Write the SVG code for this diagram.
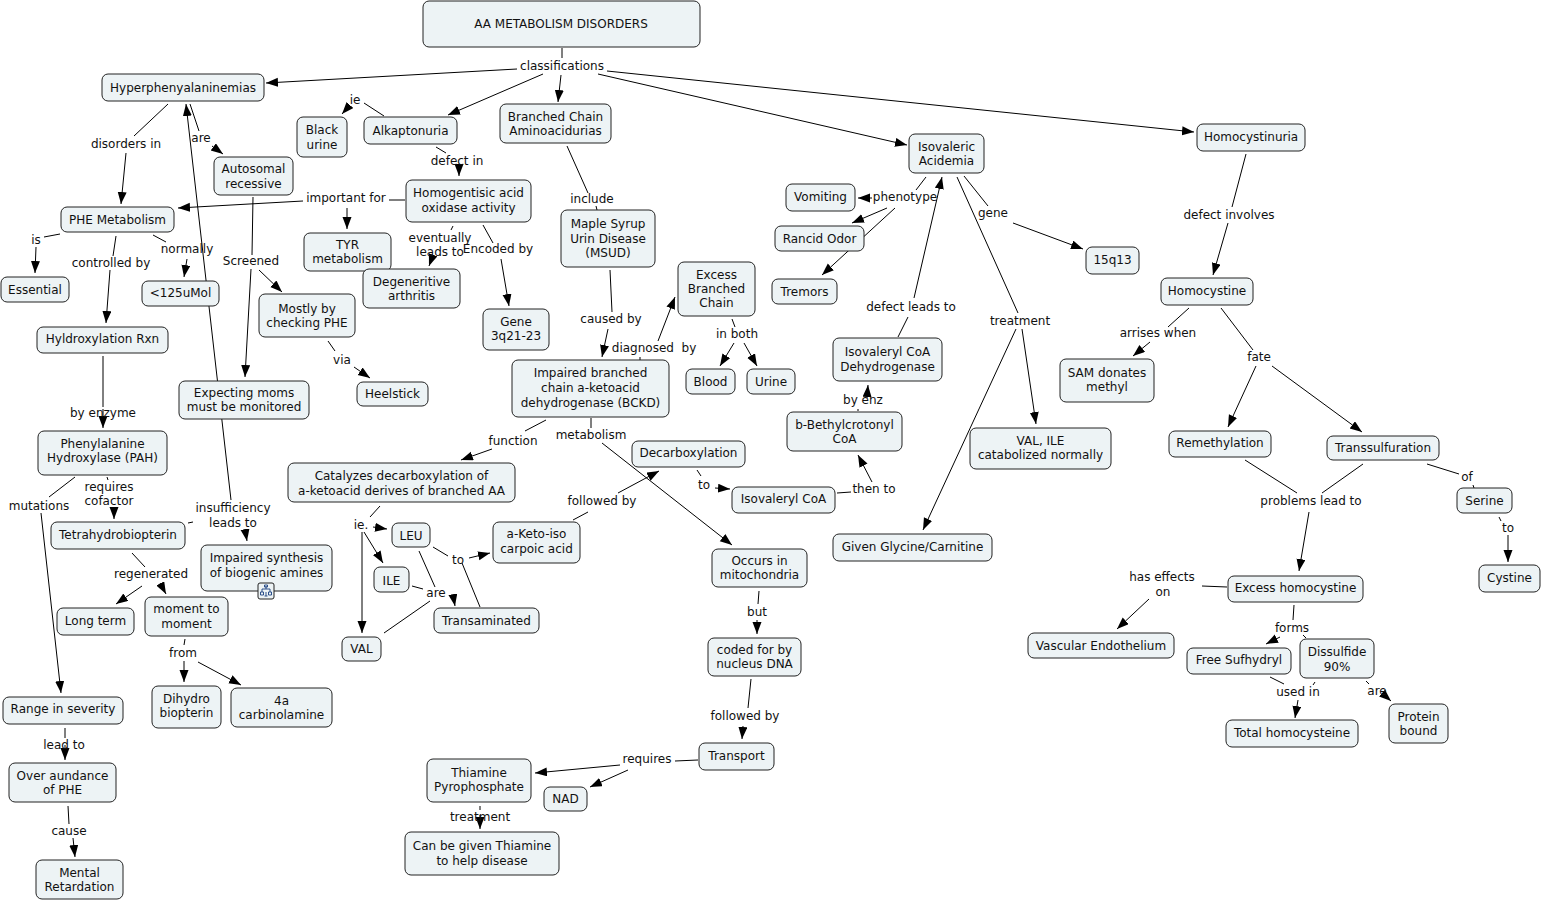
<svg xmlns="http://www.w3.org/2000/svg" width="1547" height="902" viewBox="0 0 1547 902">
<defs>
<marker id="ah" markerUnits="userSpaceOnUse" markerWidth="12" markerHeight="10" refX="12" refY="4.5" orient="auto">
<path d="M0,0 L12,4.5 L0,9 z" fill="#000"/>
</marker>
<style>
.node rect{fill:#edf3f5;stroke:#222;stroke-width:1}
text{font-family:"DejaVu Sans",Verdana,sans-serif;font-size:12px;fill:#111;text-anchor:middle}
#connectors line{stroke:#000;stroke-width:1;fill:none}
#connectors line.a{marker-end:url(#ah)}
</style>
</defs>
<rect width="1547" height="902" fill="#fff"/>
<g id="connectors">
<line x1="562" y1="48" x2="562" y2="58"/>
<line class="a" x1="517" y1="69" x2="266" y2="83"/>
<line class="a" x1="543" y1="74" x2="448" y2="115"/>
<line class="a" x1="561" y1="75" x2="558" y2="102"/>
<line class="a" x1="598" y1="74" x2="907" y2="145"/>
<line class="a" x1="607" y1="71" x2="1194" y2="132"/>
<line x1="168" y1="104" x2="134" y2="136"/>
<line class="a" x1="126" y1="153" x2="121" y2="204"/>
<line x1="190" y1="104" x2="199" y2="131"/>
<line class="a" x1="212" y1="146" x2="223" y2="154"/>
<line class="a" x1="231" y1="500" x2="186" y2="104"/>
<line x1="188" y1="523" x2="193" y2="522"/>
<line class="a" x1="245" y1="529" x2="247" y2="541"/>
<line x1="60" y1="234" x2="44" y2="237"/>
<line class="a" x1="36" y1="247" x2="35" y2="273"/>
<line x1="116" y1="236" x2="113" y2="256"/>
<line class="a" x1="110" y1="270" x2="106" y2="323"/>
<line x1="153" y1="235" x2="166" y2="242"/>
<line class="a" x1="187" y1="259" x2="184" y2="277"/>
<line x1="405" y1="200" x2="389" y2="200"/>
<line class="a" x1="303" y1="201" x2="178" y2="208"/>
<line class="a" x1="347" y1="208" x2="347" y2="229"/>
<line x1="103" y1="356" x2="103" y2="407"/>
<line class="a" x1="103" y1="409" x2="103" y2="428"/>
<line x1="75" y1="477" x2="49" y2="497"/>
<line class="a" x1="41" y1="513" x2="61" y2="693"/>
<line x1="107" y1="477" x2="108" y2="480"/>
<line class="a" x1="114" y1="507" x2="114" y2="519"/>
<line x1="132" y1="553" x2="145" y2="567"/>
<line class="a" x1="142" y1="586" x2="116" y2="604"/>
<line class="a" x1="160" y1="583" x2="166" y2="594"/>
<line x1="185" y1="639" x2="184" y2="645"/>
<line class="a" x1="184" y1="661" x2="184" y2="682"/>
<line class="a" x1="198" y1="662" x2="241" y2="685"/>
<line x1="65" y1="728" x2="65" y2="738"/>
<line class="a" x1="65" y1="745" x2="65" y2="760"/>
<line x1="68" y1="806" x2="69" y2="824"/>
<line class="a" x1="73" y1="838" x2="75" y2="857"/>
<line x1="253" y1="197" x2="252" y2="255"/>
<line class="a" x1="251" y1="269" x2="245" y2="377"/>
<line class="a" x1="259" y1="270" x2="282" y2="292"/>
<line x1="328" y1="341" x2="335" y2="351"/>
<line class="a" x1="354" y1="367" x2="370" y2="378"/>
<line x1="384" y1="116" x2="364" y2="103"/>
<line class="a" x1="350" y1="105" x2="342" y2="114"/>
<line x1="436" y1="147" x2="446" y2="153"/>
<line class="a" x1="459" y1="164" x2="459" y2="176"/>
<line x1="453" y1="226" x2="451" y2="230"/>
<line class="a" x1="433" y1="255" x2="429" y2="266"/>
<line x1="483" y1="225" x2="493" y2="243"/>
<line class="a" x1="501" y1="259" x2="509" y2="306"/>
<line x1="567" y1="146" x2="588" y2="193"/>
<line x1="596" y1="206" x2="597" y2="210"/>
<line x1="610" y1="270" x2="612" y2="312"/>
<line class="a" x1="608" y1="329" x2="602" y2="357"/>
<line x1="640" y1="357" x2="640" y2="360"/>
<line class="a" x1="658" y1="341" x2="675" y2="297"/>
<line x1="732" y1="319" x2="735" y2="327"/>
<line class="a" x1="734" y1="343" x2="720" y2="366"/>
<line class="a" x1="744" y1="343" x2="757" y2="366"/>
<line x1="546" y1="420" x2="525" y2="431"/>
<line class="a" x1="492" y1="449" x2="461" y2="460"/>
<line x1="591" y1="418" x2="591" y2="428"/>
<line class="a" x1="602" y1="443" x2="732" y2="545"/>
<line x1="573" y1="520" x2="588" y2="512"/>
<line class="a" x1="618" y1="493" x2="659" y2="471"/>
<line x1="697" y1="470" x2="701" y2="476"/>
<line class="a" x1="715" y1="488" x2="730" y2="489"/>
<line x1="837" y1="493" x2="851" y2="492"/>
<line class="a" x1="872" y1="482" x2="858" y2="455"/>
<line x1="858" y1="409" x2="858" y2="411"/>
<line class="a" x1="867" y1="398" x2="868" y2="385"/>
<line x1="898" y1="337" x2="908" y2="317"/>
<line class="a" x1="914" y1="298" x2="942" y2="177"/>
<line x1="926" y1="177" x2="916" y2="190"/>
<line class="a" x1="872" y1="198" x2="858" y2="198"/>
<line class="a" x1="887" y1="208" x2="852" y2="223"/>
<line class="a" x1="895" y1="208" x2="822" y2="275"/>
<line x1="964" y1="176" x2="988" y2="206"/>
<line class="a" x1="1013" y1="223" x2="1083" y2="249"/>
<line x1="957" y1="177" x2="1018" y2="313"/>
<line class="a" x1="1016" y1="329" x2="923" y2="530"/>
<line class="a" x1="1022" y1="329" x2="1036" y2="424"/>
<line x1="1246" y1="154" x2="1232" y2="207"/>
<line class="a" x1="1228" y1="223" x2="1213" y2="275"/>
<line x1="1189" y1="308" x2="1168" y2="327"/>
<line class="a" x1="1150" y1="342" x2="1133" y2="356"/>
<line x1="1221" y1="308" x2="1253" y2="350"/>
<line class="a" x1="1256" y1="366" x2="1228" y2="427"/>
<line class="a" x1="1272" y1="366" x2="1362" y2="432"/>
<line x1="1245" y1="460" x2="1297" y2="493"/>
<line x1="1363" y1="464" x2="1322" y2="493"/>
<line class="a" x1="1309" y1="512" x2="1299" y2="571"/>
<line x1="1427" y1="464" x2="1459" y2="474"/>
<line x1="1473" y1="485" x2="1474" y2="488"/>
<line x1="1499" y1="517" x2="1501" y2="521"/>
<line class="a" x1="1508" y1="535" x2="1508" y2="562"/>
<line x1="1227" y1="587" x2="1202" y2="586"/>
<line class="a" x1="1149" y1="599" x2="1117" y2="629"/>
<line x1="1294" y1="605" x2="1293" y2="620"/>
<line class="a" x1="1280" y1="637" x2="1266" y2="644"/>
<line x1="1303" y1="635" x2="1306" y2="638"/>
<line x1="1270" y1="677" x2="1284" y2="684"/>
<line x1="1315" y1="682" x2="1313" y2="685"/>
<line class="a" x1="1298" y1="700" x2="1295" y2="718"/>
<line x1="1366" y1="681" x2="1369" y2="684"/>
<line class="a" x1="1382" y1="693" x2="1391" y2="701"/>
<line x1="380" y1="506" x2="370" y2="517"/>
<line class="a" x1="373" y1="527" x2="387" y2="529"/>
<line class="a" x1="364" y1="532" x2="383" y2="563"/>
<line class="a" x1="362" y1="532" x2="362" y2="633"/>
<line x1="419" y1="551" x2="435" y2="587"/>
<line x1="412" y1="586" x2="423" y2="589"/>
<line x1="384" y1="633" x2="430" y2="601"/>
<line class="a" x1="453" y1="595" x2="455" y2="606"/>
<line x1="433" y1="547" x2="448" y2="556"/>
<line class="a" x1="469" y1="558" x2="490" y2="553"/>
<line x1="480" y1="607" x2="462" y2="563"/>
<line x1="698" y1="760" x2="675" y2="761"/>
<line class="a" x1="620" y1="765" x2="535" y2="773"/>
<line class="a" x1="628" y1="770" x2="590" y2="787"/>
<line x1="759" y1="591" x2="758" y2="604"/>
<line class="a" x1="757" y1="620" x2="757" y2="634"/>
<line x1="751" y1="679" x2="748" y2="708"/>
<line class="a" x1="743" y1="726" x2="742" y2="739"/>
<line x1="480" y1="806" x2="480" y2="810"/>
<line class="a" x1="480" y1="815" x2="480" y2="829"/>
</g>
<g id="link-labels">
<text x="562" y="70">classifications</text>
<text x="126" y="148">disorders in</text>
<text x="201" y="142">are</text>
<text x="36" y="244">is</text>
<text x="111" y="267">controlled by</text>
<text x="187" y="253">normally</text>
<text x="346" y="202">important for</text>
<text x="103" y="417">by enzyme</text>
<text x="355" y="104">ie</text>
<text x="457" y="165">defect in</text>
<text x="440" y="242">eventually</text>
<text x="440" y="256">leads to</text>
<text x="498" y="253">Encoded by</text>
<text x="251" y="265">Screened</text>
<text x="342" y="364">via</text>
<text x="592" y="203">include</text>
<text x="611" y="323">caused by</text>
<text x="654" y="352" xml:space="preserve">diagnosed  by</text>
<text x="737" y="338">in both</text>
<text x="513" y="445">function</text>
<text x="591" y="439">metabolism</text>
<text x="602" y="505">followed by</text>
<text x="704" y="489">to</text>
<text x="874" y="493">then to</text>
<text x="863" y="404">by enz</text>
<text x="911" y="311">defect leads to</text>
<text x="905" y="201">phenotype</text>
<text x="993" y="217">gene</text>
<text x="1020" y="325">treatment</text>
<text x="1229" y="219">defect involves</text>
<text x="1158" y="337">arrises when</text>
<text x="1259" y="361">fate</text>
<text x="1311" y="505">problems lead to</text>
<text x="1467" y="481">of</text>
<text x="1508" y="532">to</text>
<text x="1162" y="581">has effects</text>
<text x="1163" y="596">on</text>
<text x="1292" y="632">forms</text>
<text x="1298" y="696">used in</text>
<text x="1377" y="695">are</text>
<text x="39" y="510">mutations</text>
<text x="109" y="491">requires</text>
<text x="109" y="505">cofactor</text>
<text x="233" y="512">insufficiency</text>
<text x="233" y="527">leads to</text>
<text x="151" y="578">regenerated</text>
<text x="183" y="657">from</text>
<text x="64" y="749">lead to</text>
<text x="69" y="835">cause</text>
<text x="361" y="529">ie.</text>
<text x="436" y="597">are</text>
<text x="458" y="564">to</text>
<text x="480" y="821">treatment</text>
<text x="757" y="616">but</text>
<text x="745" y="720">followed by</text>
<text x="647" y="763">requires</text>
</g>
<g id="n-title" class="node"><rect x="423" y="1" width="277" height="46" rx="6"/><text x="561" y="28">AA METABOLISM DISORDERS</text></g>
<g id="n-hyper" class="node"><rect x="102" y="74" width="162" height="27" rx="6"/><text x="183" y="92">Hyperphenyalaninemias</text></g>
<g id="n-blackurine" class="node"><rect x="297" y="117" width="50" height="40" rx="6"/><text x="322" y="134">Black</text><text x="322" y="148.5">urine</text></g>
<g id="n-alk" class="node"><rect x="364" y="117" width="93" height="27" rx="6"/><text x="410.5" y="135">Alkaptonuria</text></g>
<g id="n-autosomal" class="node"><rect x="214" y="157" width="79" height="38" rx="6"/><text x="253.5" y="173">Autosomal</text><text x="253.5" y="187.5">recessive</text></g>
<g id="n-phemet" class="node"><rect x="61" y="207" width="113" height="25" rx="6"/><text x="117.5" y="224">PHE Metabolism</text></g>
<g id="n-homogentisic" class="node"><rect x="406" y="180" width="125" height="42" rx="6"/><text x="468.5" y="197">Homogentisic acid</text><text x="468.5" y="211.5">oxidase activity</text></g>
<g id="n-tyr" class="node"><rect x="304" y="233" width="87" height="38" rx="6"/><text x="347.5" y="248.5">TYR</text><text x="347.5" y="263">metabolism</text></g>
<g id="n-degen" class="node"><rect x="363" y="269" width="97" height="39" rx="6"/><text x="411.5" y="285.5">Degeneritive</text><text x="411.5" y="300">arthritis</text></g>
<g id="n-essential" class="node"><rect x="1" y="277" width="68" height="25" rx="6"/><text x="35" y="294">Essential</text></g>
<g id="n-125" class="node"><rect x="142" y="281" width="77" height="25" rx="6"/><text x="180.5" y="296.5">&lt;125uMol</text></g>
<g id="n-mostly" class="node"><rect x="259" y="294" width="96" height="43" rx="6"/><text x="307" y="312.5">Mostly by</text><text x="307" y="326.5">checking PHE</text></g>
<g id="n-gene" class="node"><rect x="483" y="309" width="66" height="41" rx="6"/><text x="516" y="325.5">Gene</text><text x="516" y="340">3q21-23</text></g>
<g id="n-hyl" class="node"><rect x="37" y="327" width="131" height="26" rx="6"/><text x="102.5" y="343">Hyldroxylation Rxn</text></g>
<g id="n-heelstick" class="node"><rect x="357" y="382" width="71" height="24" rx="6"/><text x="392.5" y="397.5">Heelstick</text></g>
<g id="n-expecting" class="node"><rect x="179" y="381" width="130" height="38" rx="6"/><text x="244" y="396.8">Expecting moms</text><text x="244" y="411.3">must be monitored</text></g>
<g id="n-branched" class="node"><rect x="500" y="104" width="111" height="39" rx="6"/><text x="555.5" y="120.8">Branched Chain</text><text x="555.5" y="135.3">Aminoacidurias</text></g>
<g id="n-msud" class="node"><rect x="561" y="210" width="94" height="57" rx="6"/><text x="608" y="228">Maple Syrup</text><text x="608" y="242.5">Urin Disease</text><text x="608" y="257">(MSUD)</text></g>
<g id="n-excessbc" class="node"><rect x="678" y="262" width="77" height="54" rx="6"/><text x="716.5" y="278.7">Excess</text><text x="716.5" y="293">Branched</text><text x="716.5" y="307.3">Chain</text></g>
<g id="n-bckd" class="node"><rect x="512" y="360" width="157" height="57" rx="6"/><text x="590.5" y="377.4">Impaired branched</text><text x="590.5" y="392">chain a-ketoacid</text><text x="590.5" y="406.6">dehydrogenase (BCKD)</text></g>
<g id="n-blood" class="node"><rect x="686" y="369" width="49" height="25" rx="6"/><text x="710.5" y="385.7">Blood</text></g>
<g id="n-urine" class="node"><rect x="747" y="369" width="48" height="25" rx="6"/><text x="771" y="385.7">Urine</text></g>
<g id="n-isovac" class="node"><rect x="909" y="134" width="75" height="39" rx="6"/><text x="946.5" y="150.7">Isovaleric</text><text x="946.5" y="165.3">Acidemia</text></g>
<g id="n-homocystinuria" class="node"><rect x="1197" y="124" width="108" height="27" rx="6"/><text x="1251" y="140.7">Homocystinuria</text></g>
<g id="n-vomiting" class="node"><rect x="786" y="184" width="69" height="27" rx="6"/><text x="820.5" y="200.7">Vomiting</text></g>
<g id="n-rancid" class="node"><rect x="775" y="226" width="89" height="25" rx="6"/><text x="819.5" y="242.7">Rancid Odor</text></g>
<g id="n-tremors" class="node"><rect x="772" y="279" width="65" height="25" rx="6"/><text x="804.5" y="296.3">Tremors</text></g>
<g id="n-15q13" class="node"><rect x="1086" y="247" width="53" height="27" rx="6"/><text x="1112.5" y="264">15q13</text></g>
<g id="n-homocystine" class="node"><rect x="1161" y="278" width="92" height="27" rx="6"/><text x="1207" y="294.7">Homocystine</text></g>
<g id="n-isovdh" class="node"><rect x="833" y="338" width="109" height="43" rx="6"/><text x="887.5" y="355.7">Isovaleryl CoA</text><text x="887.5" y="370.5">Dehydrogenase</text></g>
<g id="n-sam" class="node"><rect x="1060" y="359" width="94" height="43" rx="6"/><text x="1107" y="376.7">SAM donates</text><text x="1107" y="391.3">methyl</text></g>
<g id="n-bbeth" class="node"><rect x="787" y="412" width="115" height="39" rx="6"/><text x="844.5" y="429">b-Bethylcrotonyl</text><text x="844.5" y="443.3">CoA</text></g>
<g id="n-valile" class="node"><rect x="970" y="428" width="141" height="41" rx="6"/><text x="1040.5" y="444.7">VAL, ILE</text><text x="1040.5" y="459">catabolized normally</text></g>
<g id="n-remeth" class="node"><rect x="1169" y="431" width="102" height="26" rx="6"/><text x="1220" y="446.7">Remethylation</text></g>
<g id="n-transs" class="node"><rect x="1327" y="436" width="112" height="24" rx="6"/><text x="1383" y="451.7">Transsulfuration</text></g>
<g id="n-serine" class="node"><rect x="1457" y="488" width="55" height="25" rx="6"/><text x="1484.5" y="504.7">Serine</text></g>
<g id="n-cystine" class="node"><rect x="1479" y="565" width="61" height="27" rx="6"/><text x="1509.5" y="581.7">Cystine</text></g>
<g id="n-excesshc" class="node"><rect x="1228" y="576" width="135" height="26" rx="6"/><text x="1295.5" y="591.7">Excess homocystine</text></g>
<g id="n-vascular" class="node"><rect x="1028" y="633" width="146" height="25" rx="6"/><text x="1101" y="649.7">Vascular Endothelium</text></g>
<g id="n-free" class="node"><rect x="1187" y="648" width="104" height="26" rx="6"/><text x="1239" y="664">Free Sufhydryl</text></g>
<g id="n-dissulfide" class="node"><rect x="1300" y="639" width="74" height="39" rx="6"/><text x="1337" y="655.7">Dissulfide</text><text x="1337" y="670.5">90%</text></g>
<g id="n-protein" class="node"><rect x="1389" y="704" width="59" height="39" rx="6"/><text x="1418.5" y="720.7">Protein</text><text x="1418.5" y="735">bound</text></g>
<g id="n-totalhc" class="node"><rect x="1226" y="720" width="132" height="27" rx="6"/><text x="1292" y="736.7">Total homocysteine</text></g>
<g id="n-glycine" class="node"><rect x="833" y="534" width="159" height="27" rx="6"/><text x="912.5" y="550.7">Given Glycine/Carnitine</text></g>
<g id="n-decarb" class="node"><rect x="632" y="441" width="113" height="26" rx="6"/><text x="688.5" y="456.7">Decarboxylation</text></g>
<g id="n-isovcoa" class="node"><rect x="732" y="487" width="103" height="26" rx="6"/><text x="783.5" y="503">Isovaleryl CoA</text></g>
<g id="n-aketo" class="node"><rect x="493" y="522" width="87" height="41" rx="6"/><text x="536.5" y="538.3">a-Keto-iso</text><text x="536.5" y="553">carpoic acid</text></g>
<g id="n-mito" class="node"><rect x="712" y="549" width="95" height="38" rx="6"/><text x="759.5" y="564.7">Occurs in</text><text x="759.5" y="579">mitochondria</text></g>
<g id="n-coded" class="node"><rect x="708" y="638" width="93" height="38" rx="6"/><text x="754.5" y="654">coded for by</text><text x="754.5" y="668.3">nucleus DNA</text></g>
<g id="n-transport" class="node"><rect x="699" y="743" width="75" height="27" rx="6"/><text x="736.5" y="759.7">Transport</text></g>
<g id="n-nad" class="node"><rect x="544" y="787" width="43" height="24" rx="6"/><text x="565.5" y="803.3">NAD</text></g>
<g id="n-thiamine" class="node"><rect x="427" y="759" width="104" height="43" rx="6"/><text x="479" y="776.7">Thiamine</text><text x="479" y="791.3">Pyrophosphate</text></g>
<g id="n-cangiven" class="node"><rect x="405" y="832" width="154" height="43" rx="6"/><text x="482" y="850">Can be given Thiamine</text><text x="482" y="864.7">to help disease</text></g>
<g id="n-pah" class="node"><rect x="38" y="431" width="129" height="44" rx="6"/><text x="102.5" y="448">Phenylalanine</text><text x="102.5" y="462.3">Hydroxylase (PAH)</text></g>
<g id="n-tetra" class="node"><rect x="51" y="522" width="134" height="27" rx="6"/><text x="118" y="539">Tetrahydrobiopterin</text></g>
<g id="n-impaired" class="node"><rect x="201" y="545" width="131" height="46" rx="6"/><text x="266.5" y="562.3">Impaired synthesis</text><text x="266.5" y="576.5">of biogenic amines</text>
<g id="icon"><rect x="258" y="583" width="16" height="16" rx="2" fill="#f4f8ff" stroke="#2a5fb0" stroke-width="1.2"/><path d="M266,586 v3 M262,589 h8 M262,589 v3 M270,589 v3 M260.5,592 h3 v3 h-3 z M268.5,592 h3 v3 h-3 z M264.5,585 h3 v2 h-3 z M266,592 v4 M264.5,596 h3" fill="none" stroke="#1a3f80" stroke-width="0.9"/></g></g>
<g id="n-longterm" class="node"><rect x="57" y="608" width="77" height="27" rx="6"/><text x="95.5" y="624.7">Long term</text></g>
<g id="n-moment" class="node"><rect x="145" y="597" width="83" height="39" rx="6"/><text x="186.5" y="613.3">moment to</text><text x="186.5" y="627.5">moment</text></g>
<g id="n-dihydro" class="node"><rect x="152" y="686" width="69" height="42" rx="6"/><text x="186.5" y="703">Dihydro</text><text x="186.5" y="717.3">biopterin</text></g>
<g id="n-4a" class="node"><rect x="231" y="688" width="101" height="39" rx="6"/><text x="281.5" y="704.7">4a</text><text x="281.5" y="719">carbinolamine</text></g>
<g id="n-range" class="node"><rect x="3" y="697" width="120" height="27" rx="6"/><text x="63" y="713.3">Range in severity</text></g>
<g id="n-over" class="node"><rect x="9" y="763" width="107" height="39" rx="6"/><text x="62.5" y="780">Over aundance</text><text x="62.5" y="794">of PHE</text></g>
<g id="n-mental" class="node"><rect x="36" y="860" width="87" height="39" rx="6"/><text x="79.5" y="876.7">Mental</text><text x="79.5" y="891.3">Retardation</text></g>
<g id="n-catalyzes" class="node"><rect x="288" y="463" width="227" height="39" rx="6"/><text x="401.5" y="480">Catalyzes decarboxylation of</text><text x="401.5" y="494.7">a-ketoacid derives of branched AA</text></g>
<g id="n-leu" class="node"><rect x="392" y="523" width="38" height="24" rx="6"/><text x="411" y="539.7">LEU</text></g>
<g id="n-ile" class="node"><rect x="374" y="567" width="35" height="25" rx="6"/><text x="391.5" y="584.7">ILE</text></g>
<g id="n-val" class="node"><rect x="342" y="637" width="39" height="24" rx="6"/><text x="361.5" y="653.3">VAL</text></g>
<g id="n-transam" class="node"><rect x="434" y="608" width="105" height="25" rx="6"/><text x="486.5" y="625">Transaminated</text></g>
</svg>
